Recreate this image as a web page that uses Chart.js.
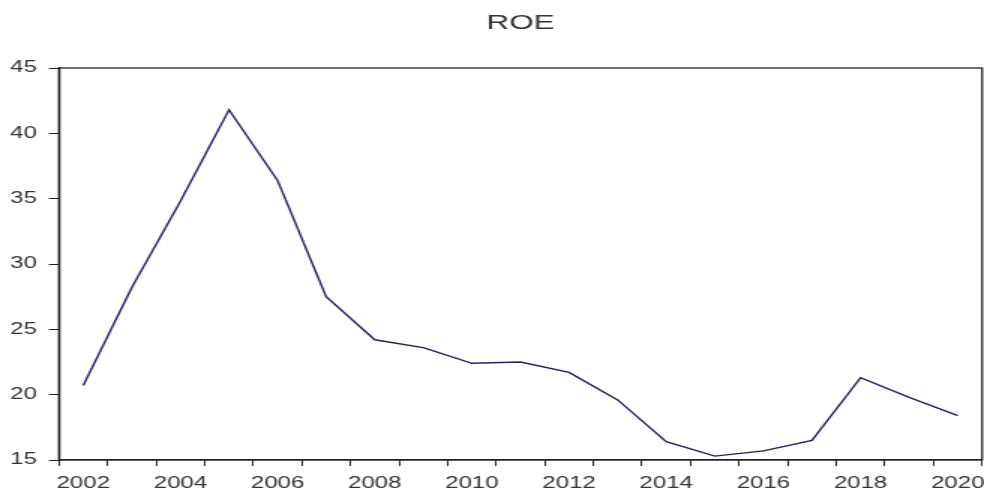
<!DOCTYPE html>
<html>
<head>
<meta charset="utf-8">
<script src="https://cdn.jsdelivr.net/npm/chart.js@4"></script>
<style>
  html, body { margin: 0; padding: 0; background: #fff; overflow: hidden; }
  /* the reference is stretched sideways, so draw narrow and scale x */
  #wrap { position: absolute; left: 0; top: 0; width: 656px; height: 488px;
          transform: scaleX(1.5); transform-origin: 0 0; }
</style>
</head>
<body>
<div id="wrap"><canvas id="roe"></canvas></div>
<script>
var years = ["2002","2003","2004","2005","2006","2007","2008","2009","2010","2011",
             "2012","2013","2014","2015","2016","2017","2018","2019","2020"];
var roeValues = [20.7, 28.2, 34.8, 41.8, 36.4, 27.5, 24.2, 23.6, 22.4, 22.5,
                 21.7, 19.6, 16.4, 15.3, 15.7, 16.5, 21.3, 19.8, 18.4];
var yTicks = [15, 20, 25, 30, 35, 40, 45];

var axisColor = "#222";
var textColor = "#333";
var fontFamily = "'Liberation Sans', Arial, sans-serif";

// draws the box round the plot area
var frame = {
  id: "frame",
  afterDraw: function(chart) {
    var a = chart.chartArea, ctx = chart.ctx;
    ctx.save();
    ctx.strokeStyle = axisColor;
    ctx.lineWidth = 1.3;
    ctx.strokeRect(a.left, a.top, a.right - a.left, a.bottom - a.top);
    ctx.restore();
  }
};

var ctx = document.getElementById("roe").getContext("2d");
var roeChart = new Chart(ctx, {
  type: "line",
  data: {
    labels: years,
    datasets: [{
      label: "ROE",
      data: roeValues,
      borderColor: "#20206a",
      borderWidth: 1.4,
      pointRadius: 0,
      tension: 0,
      fill: false
    }]
  },
  options: {
    responsive: true,
    maintainAspectRatio: false,
    animation: false,
    layout: { padding: { left: 0, right: 1.3, top: 0, bottom: 0 } },
    plugins: {
      legend: { display: false },
      tooltip: { enabled: false },
      title: {
        display: true,
        text: "ROE",
        fullSize: false,
        color: textColor,
        font: { family: fontFamily, size: 21, weight: "normal" },
        padding: { top: 11, bottom: 31.8 }
      }
    },
    scales: {
      x: {
        type: "category",
        offset: true,
        grid: { offset: true, drawOnChartArea: false, drawTicks: true, tickLength: 6, color: axisColor, lineWidth: 1 },
        border: { display: true, color: axisColor, width: 1.3 },
        ticks: {
          autoSkip: false,
          maxRotation: 0,
          padding: 8,
          color: textColor,
          font: { family: fontFamily, size: 16 },
          callback: function(val) {
            var y = this.getLabelForValue(val);
            return (+y) % 2 === 0 ? y : "";
          }
        },
        afterFit: function(scale) {
          scale.height = 28;
          // let the last label run off the edge like the original
          scale.paddingLeft = 0;
          scale.paddingRight = 0;
        }
      },
      y: {
        min: 15,
        max: 45,
        grid: { drawOnChartArea: false, drawTicks: true, tickLength: 6.7, color: axisColor, lineWidth: 1 },
        border: { display: true, color: axisColor, width: 1.3 },
        ticks: {
          padding: 8,
          color: textColor,
          font: { family: fontFamily, size: 16 }
        },
        afterBuildTicks: function(scale) {
          scale.ticks = yTicks.map(function(v) { return { value: v }; });
        },
        afterFit: function(scale) { scale.width = 39.3; }
      }
    }
  },
  plugins: [frame]
});
</script>
</body>
</html>
